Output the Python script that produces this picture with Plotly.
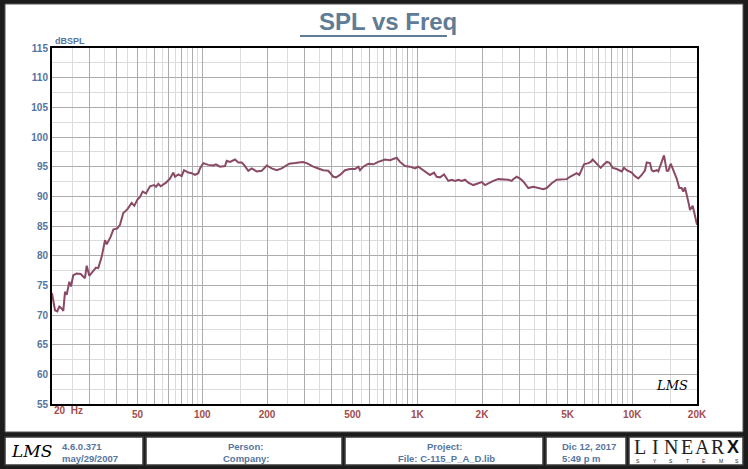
import numpy as np
import plotly.graph_objects as go

# ---------------- data ----------------
freq_hz = [20.0, 20.65, 21.17, 21.63, 22.19, 22.57, 22.99, 23.41, 24.07, 24.51, 25.12, 26.05, 27.19, 27.78,
           28.47, 29.00, 29.82, 30.92, 32.03, 32.83, 34.05, 35.28, 35.92, 37.50, 38.56, 40.25, 41.43, 42.92,
           44.80, 46.96, 48.28, 49.86, 51.32, 52.83, 54.73, 57.13, 59.63, 60.92, 62.44, 64.06, 67.80, 70.77,
           73.32, 74.67, 77.35, 80.22, 82.22, 86.09, 89.28, 92.50, 95.82, 97.59, 101.1, 106.7, 112.5, 115.8,
           120.9, 127.6, 129.9, 134.6, 142.0, 147.1, 152.6, 156.4, 163.7, 169.8, 179.1, 189.0, 199.4, 210.3,
           221.9, 234.1, 253.9,
           270.0, 293.2, 306.0, 328.3, 346.4, 365.5, 385.6, 406.9, 418.8, 437.1, 461.2, 486.5, 513.2, 531.7,
           541.5, 560.9, 591.8, 624.4, 658.7, 707.7, 746.7, 802.2, 831.0, 876.9, 925.0, 975.9, 1011, 1048,
           1106, 1146, 1196, 1231, 1276, 1332, 1371, 1394, 1446, 1498, 1552, 1609, 1667, 1727, 1822, 1890,
           1994, 2065, 2139, 2257, 2381, 2512, 2651, 2749, 2797, 2900, 3004,
           3112, 3284, 3464, 3655, 3856, 3999, 4219, 4451, 4696, 4954, 5132, 5317, 5515, 5670, 5818, 5963,
           6244, 6406, 6546, 6780, 7131, 7332, 7604, 7818, 8108, 8464, 8928, 9152, 9420, 9938, 10296, 10667,
           11062, 11460, 11670, 12090, 12312, 12524, 12990, 13213, 13458, 13706, 14048, 14458, 14710, 15093,
           15518, 16092, 16546, 16976, 17272, 17588, 18222, 18558, 19099, 19786, 20000]

spl_db = [73.7, 70.8, 70.6, 71.4, 71.1, 70.7, 73.9, 73.4, 75.6, 74.8, 76.7, 77.0, 76.9, 76.5,
          76.2, 78.3, 76.6, 77.3, 78.0, 77.9, 79.8, 82.6, 81.9, 83.2, 84.4, 84.6, 85.2, 87.2,
          87.8, 88.9, 88.4, 89.4, 89.9, 90.8, 90.5, 91.7, 91.9, 91.6, 92.1, 91.7, 92.3, 93.0,
          94.0, 93.3, 93.7, 93.4, 94.4, 94.0, 93.9, 93.6, 93.9, 94.7, 95.6, 95.3, 95.2, 95.4,
          95.0, 95.1, 96.0, 95.8, 96.2, 95.7, 95.7, 95.3, 94.3, 94.7, 94.2, 94.3, 95.2, 94.7,
          94.4, 94.7, 95.5,
          95.6, 95.8, 95.6, 95.0, 94.7, 94.4, 94.3, 93.3, 93.2, 93.6, 94.4, 94.6, 94.6, 95.0,
          94.4, 95.0, 95.5, 95.4, 95.8, 96.2, 96.1, 96.5, 95.8, 95.1, 95.0, 94.7, 95.0, 94.6,
          93.9, 93.6, 94.0, 93.3, 93.2, 93.7, 93.0, 92.6, 92.8, 92.6, 92.8, 92.6, 92.8, 92.3, 91.9, 92.1,
          92.4, 91.9, 92.2, 92.6, 92.9, 92.8, 92.8, 92.6, 92.9, 93.3, 93.0,
          92.5, 91.4, 91.6, 91.4, 91.2, 91.4, 92.2, 92.8, 92.9, 92.9, 93.3, 93.6, 93.9, 93.6, 94.4, 95.4,
          95.6, 95.8, 96.2, 95.6, 94.8, 95.3, 95.8, 95.7, 94.8, 94.6, 94.2, 94.8, 94.4, 94.0, 93.4, 93.0,
          93.6, 94.4, 95.7, 95.6, 94.4, 94.2, 94.4, 94.2, 95.0, 96.1, 96.9, 94.3, 94.3, 95.5,
          94.4, 93.0, 91.4, 91.4, 90.8, 91.5, 89.1, 87.7, 88.4, 85.5, 85.2]

x_tick_vals = [50, 100, 200, 500, 1000, 2000, 5000, 10000, 20000]
x_tick_text = ["50", "100", "200", "500", "1K", "2K", "5K", "10K", "20K"]
y_ticks = [55, 60, 65, 70, 75, 80, 85, 90, 95, 100, 105, 110, 115]

title_text = "SPL vs Freq"
y_unit = "dBSPL"
footer = {
    "version": "4.6.0.371", "vdate": "may/29/2007",
    "person": "Person:", "company": "Company:",
    "project": "Project:", "file": "File: C-115_P_A_D.lib",
    "date": "Dic 12, 2017", "time": "5:49 p m",
}

# ---------------- layout helpers ----------------
W, H = 748, 469
L, R, T, B = 52, 697, 48, 404


def px(x):
    return (x - L) / (R - L)


def py(y):
    return (B - y) / (B - T)


FONT = "Liberation Sans Narrow, Liberation Sans, Arial"
BLUE = "#56759e"
RED = "#a24c4c"

# gridlines: major at 1..9 x decade, minor at 1.5..9.5 x decade
grid_major, grid_text = [], []
grid_minor = []
for d in (10, 100, 1000, 10000):
    for m in range(1, 10):
        v = d * m
        if 20 <= v <= 20000:
            grid_major.append(v)
            grid_text.append(x_tick_text[x_tick_vals.index(v)] if v in x_tick_vals else "")
        vm = d * (m + 0.5)
        if 20 < vm < 20000:
            grid_minor.append(vm)

fig = go.Figure()
fig.add_trace(go.Scatter(x=freq_hz, y=spl_db, mode="lines",
                         line=dict(color="#8a4a66", width=2), hoverinfo="skip"))

shapes = []
# main white panel
shapes.append(dict(type="rect", xref="paper", yref="paper", layer="below",
                   x0=px(5), x1=px(743), y0=py(432), y1=py(4),
                   fillcolor="white", line=dict(color="#555555", width=1)))
# footer boxes
for (a, b) in [(5, 143), (146, 342), (345, 543), (546, 626), (629, 743)]:
    shapes.append(dict(type="rect", xref="paper", yref="paper", layer="below",
                       x0=px(a), x1=px(b), y0=py(465), y1=py(437),
                       fillcolor="white", line=dict(color="#3a3a3a", width=1.5)))
# title underline
shapes.append(dict(type="line", xref="paper", yref="paper",
                   x0=px(300), x1=px(447), y0=py(36), y1=py(36),
                   line=dict(color="#5f7c96", width=2)))

ann = []
ann.append(dict(text="<b>" + title_text + "</b>", x=px(388), y=py(22), xref="paper", yref="paper",
                showarrow=False, xanchor="center", yanchor="middle",
                font=dict(family=FONT, size=24, color="#5f7c96")))
ann.append(dict(text="<b>" + y_unit + "</b>", x=px(53), y=py(41), xref="paper", yref="paper",
                showarrow=False, xanchor="left", yanchor="middle",
                font=dict(family=FONT, size=9, color=BLUE)))
ann.append(dict(text="<b>20  Hz</b>", x=px(52), y=py(410), xref="paper", yref="paper",
                showarrow=False, xanchor="left", yanchor="middle",
                font=dict(family=FONT, size=10, color=RED)))
# LMS logo inside plot
ann.append(dict(text="<i>LMS</i>", x=px(672), y=py(385), xref="paper", yref="paper",
                showarrow=False, xanchor="center", yanchor="middle",
                font=dict(family="DejaVu Serif", size=13, color="black")))
# footer
ann.append(dict(text="<i>LMS</i>", x=px(31), y=py(451), xref="paper", yref="paper",
                showarrow=False, xanchor="center", yanchor="middle",
                font=dict(family="DejaVu Serif", size=17, color="black")))
ft = dict(family=FONT, size=9.5, color=BLUE, weight="bold")
for txt, x, y, anc in [(footer["version"], 60, 446, "left"), (footer["vdate"], 60, 458, "left"),
                       (footer["person"], 245, 446, "center"), (footer["company"], 246, 458, "center"),
                       (footer["project"], 444, 446, "center"), (footer["file"], 446, 458, "center"),
                       (footer["date"], 560, 446, "left"), (footer["time"], 560, 458, "left")]:
    ann.append(dict(text=txt, x=px(x), y=py(y), xref="paper", yref="paper", showarrow=False,
                    xanchor=anc, yanchor="middle", font=ft))
for i, ch in enumerate("LINEAR"):
    ann.append(dict(text=ch, x=px(640 + i * 15.6), y=py(447), xref="paper", yref="paper",
                    showarrow=False, xanchor="center", yanchor="middle",
                    font=dict(family="Liberation Serif", size=20, color="#222222")))
ann.append(dict(text="<b>X</b>", x=px(733), y=py(447), xref="paper", yref="paper", showarrow=False,
                xanchor="center", yanchor="middle",
                font=dict(family="Liberation Sans", size=18, color="#111111")))
for i, ch in enumerate("SYSTEMS"):
    ann.append(dict(text=ch, x=px(638 + i * 16.5), y=py(460.5), xref="paper", yref="paper",
                    showarrow=False, xanchor="center", yanchor="middle",
                    font=dict(family="Liberation Sans", size=5, color="#222222")))

fig.update_layout(
    width=W, height=H, autosize=False,
    margin=dict(l=L, r=W - R, t=T, b=H - B, pad=0),
    paper_bgcolor="#1c1c1c", plot_bgcolor="white",
    showlegend=False, shapes=shapes, annotations=ann,
    xaxis=dict(type="log", range=[np.log10(20), np.log10(20000)],
               tickmode="array", tickvals=grid_major, ticktext=grid_text,
               showgrid=True, gridcolor="#acacac", gridwidth=1,
               minor=dict(tickmode="array", tickvals=grid_minor, showgrid=True,
                          gridcolor="#dcdcdc", gridwidth=1),
               showline=True, linecolor="black", linewidth=2, mirror=True,
               ticks="", zeroline=False,
               tickfont=dict(family=FONT, size=10, color=RED, weight="bold")),
    yaxis=dict(range=[55, 115], tickmode="array", tickvals=y_ticks,
               showgrid=True, gridcolor="#acacac", gridwidth=1,
               minor=dict(dtick=2.5, tick0=55, showgrid=True, gridcolor="#dcdcdc", gridwidth=1),
               showline=True, linecolor="black", linewidth=2, mirror=True,
               ticks="", zeroline=False,
               tickfont=dict(family=FONT, size=10, color=BLUE, weight="bold")),
)

fig.write_html("out.html", config={"displayModeBar": False},
               post_script="document.body.style.margin='0px';")
